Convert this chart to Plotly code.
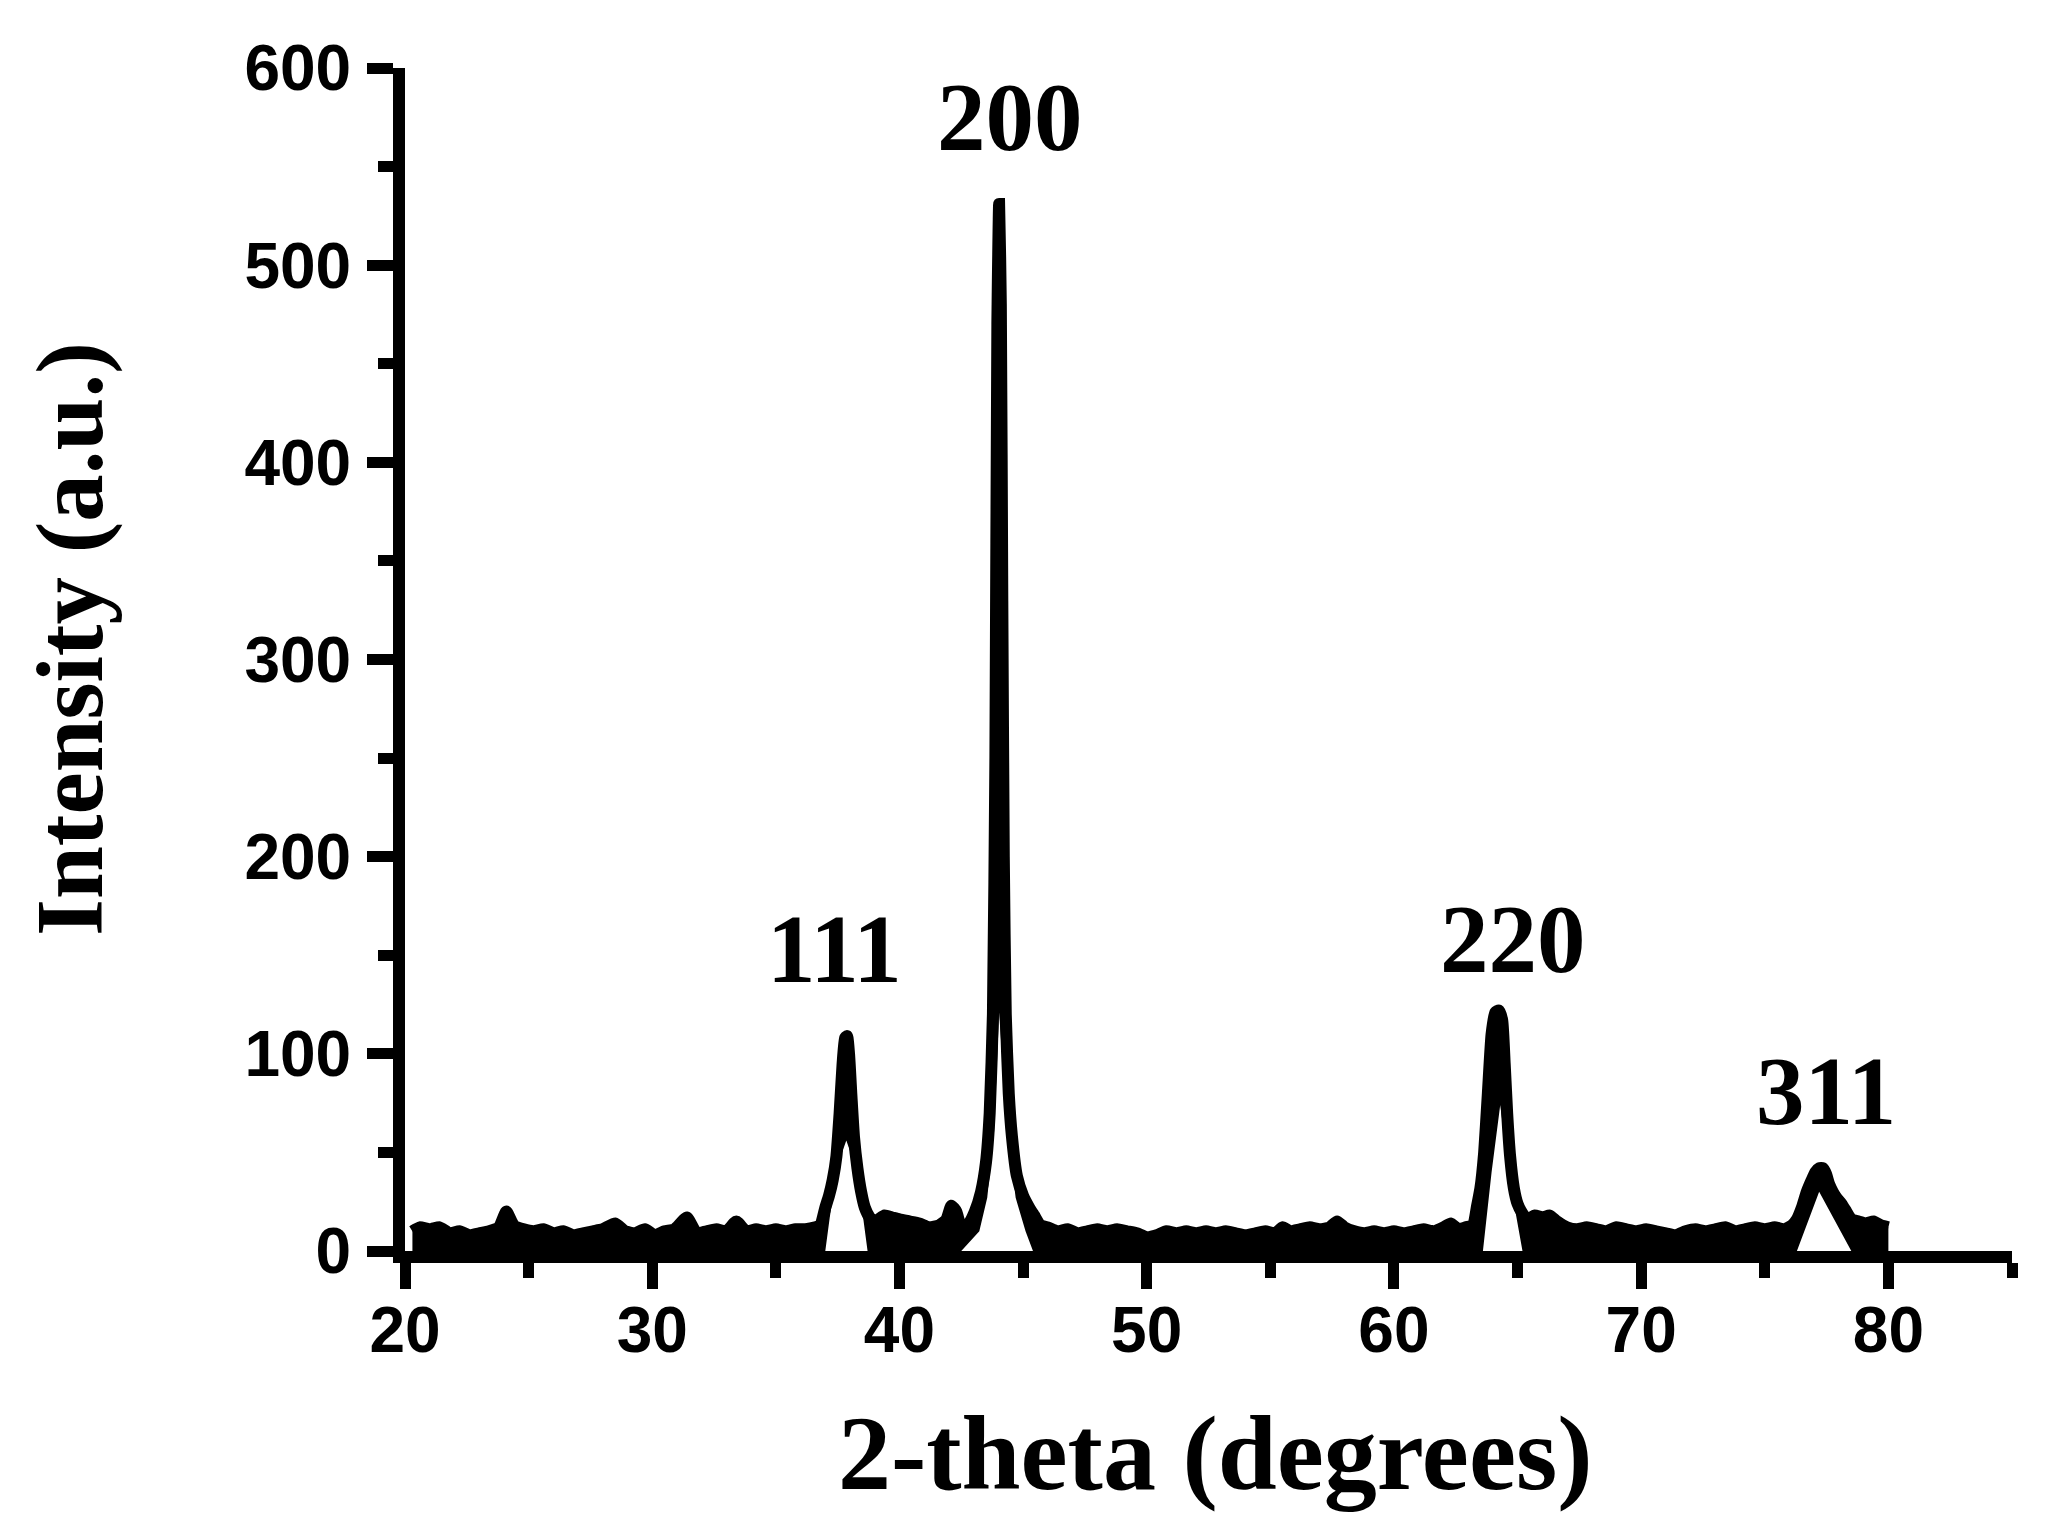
import plotly.graph_objects as go

two_theta = [20.3, 20.6, 21.0, 21.4, 21.8, 22.2, 22.6, 23.0, 23.4, 23.8, 24.1, 24.4, 24.8,
             25.2, 25.6, 26.0, 26.4, 26.8, 27.2, 27.6, 28.0, 28.5, 28.9, 29.3, 29.7, 30.1,
             30.5, 30.9, 31.4, 31.8, 32.2, 32.6, 33.0, 33.4, 33.8, 34.2, 34.6, 35.0, 35.4,
             35.8, 36.2, 36.6,
             36.8, 37.0, 37.15, 37.3, 37.45, 37.58, 37.7, 37.8, 37.88, 37.96, 38.06, 38.16,
             38.3, 38.45, 38.6, 38.8, 39.0,
             39.4, 39.7, 40.0, 40.4, 40.8, 41.2, 41.6, 41.9, 42.1, 42.3,
             42.5, 42.8, 43.05, 43.3, 43.5, 43.65, 43.78, 43.88, 43.96, 44.03, 44.1, 44.16,
             44.22, 44.3, 44.42, 44.55, 44.75, 45.0, 45.25, 45.45, 45.7,
             46.0, 46.4, 46.8, 47.2, 47.6, 48.0, 48.4, 48.8, 49.2, 49.6, 50.0, 50.4, 50.8,
             51.2, 51.6, 52.0, 52.4, 52.8, 53.2, 53.6, 54.0, 54.4, 54.8, 55.2, 55.5, 55.8,
             56.2, 56.6, 57.0, 57.4, 57.7, 58.0, 58.4, 58.8, 59.2, 59.6, 60.0, 60.4, 60.8,
             61.2, 61.6, 62.0, 62.3, 62.6, 62.9,
             63.2, 63.35, 63.5, 63.65, 63.8, 63.95, 64.1, 64.25, 64.38, 64.48, 64.58, 64.7,
             64.85, 65.0, 65.2, 65.4,
             65.7, 66.0, 66.3, 66.6, 67.0, 67.4, 67.8, 68.2, 68.6, 69.0, 69.4, 69.8, 70.2,
             70.6, 71.0, 71.4, 71.8, 72.2, 72.6, 73.0, 73.4, 73.8, 74.2, 74.6, 75.0, 75.4,
             75.8, 76.1, 76.3, 76.5, 76.7, 76.9, 77.05, 77.2, 77.35, 77.48, 77.6, 77.75,
             77.9, 78.1, 78.3, 78.5, 78.8, 79.1, 79.4, 79.7, 80.0]
intensity = [10, 12, 11, 12, 9, 10, 8, 9, 10, 12, 20, 13, 11,
             10, 11, 9, 10, 8, 9, 10, 11, 14, 10, 9, 11, 8,
             10, 11, 17, 9, 10, 11, 10, 15, 10, 11, 10, 11, 10,
             11, 11, 12,
             13, 22, 28, 36, 48, 70, 95, 108, 109, 100, 78, 58,
             42, 30, 22, 17, 15,
             18, 17, 16, 15, 14, 12, 13, 16, 23, 20,
             12, 14, 20, 30, 45, 70, 120, 250, 470, 531, 480, 330,
             200, 120, 80, 58, 38, 28, 22, 18, 13,
             12, 10, 11, 9, 10, 11, 10, 11, 10, 9, 7, 8, 10,
             9, 10, 9, 10, 9, 10, 9, 8, 9, 10, 9, 12, 10,
             11, 12, 11, 12, 15, 12, 10, 9, 10, 9, 10, 9, 10,
             11, 10, 12, 14, 11, 12,
             13, 22, 32, 50, 80, 110, 121, 122, 117, 95, 70, 48,
             32, 24, 19, 16,
             18, 17, 18, 15, 12, 11, 12, 11, 10, 12, 11, 10, 11,
             10, 9, 8, 10, 11, 10, 11, 12, 10, 11, 12, 11, 12,
             11, 13, 16, 22, 30, 36, 40, 42, 42, 39, 34, 30,
             27, 24, 20, 16, 15, 14, 15, 13, 12]

# lower edge of the noise band: sits on zero, lifted under each reflection
floor_theta = [20.3, 37.0, 37.18, 37.51, 37.85, 38.19, 38.53, 38.71,
               42.5, 43.23, 43.55, 43.83, 44.03, 44.36, 44.7, 45.1, 45.4,
               63.6, 63.95, 64.3, 64.7, 65.2,
               76.3, 77.2, 78.5, 80.0]
floor_intensity = [0, 0, 17, 44, 56, 44, 17, 0,
                   0, 10, 27, 61, 121, 61, 27, 10, 0,
                   0, 40, 74, 35, 0,
                   0, 30, 0, 0]

# Miller indices of the reflections
peak_labels = ["111", "200", "220", "311"]
label_theta = [37.38, 44.48, 64.8, 77.46]
label_intensity = [153, 575, 158, 81]

serif = "Liberation Serif, Times New Roman, serif"
sans = "Liberation Sans, Arial, sans-serif"

fig = go.Figure()

# dense noise band between the floor and the upper edge
fig.add_trace(go.Scatter(
    x=two_theta + floor_theta[::-1],
    y=intensity + floor_intensity[::-1],
    mode="lines", fill="toself", fillcolor="black",
    line=dict(width=0), hoverinfo="skip", showlegend=False,
))
fig.add_trace(go.Scatter(
    x=two_theta, y=intensity, mode="lines",
    line=dict(color="black", width=12, shape="spline", smoothing=0.5),
    showlegend=False,
))

for lab, xv, yv in zip(peak_labels, label_theta, label_intensity):
    fig.add_annotation(x=xv, y=yv, text=lab, showarrow=False,
                       xanchor="center", yanchor="middle",
                       font=dict(family=serif, size=97, color="black", weight="bold"))

fig.add_annotation(x=0.504, y=-0.1708, xref="paper", yref="paper",
                   text="2-theta (degrees)", showarrow=False,
                   xanchor="center", yanchor="middle",
                   font=dict(family=serif, size=106, color="black", weight="bold"))
fig.add_annotation(x=-0.2085, y=0.5173, xref="paper", yref="paper",
                   text="Intensity (a.u.)", showarrow=False, textangle=-90,
                   xanchor="center", yanchor="middle",
                   font=dict(family=serif, size=95, color="black", weight="bold"))

axis_common = dict(
    showline=True, linecolor="black", linewidth=12,
    ticks="outside", ticklen=26, tickwidth=11, tickcolor="black",
    showgrid=False, zeroline=False,
    tickfont=dict(family=sans, size=64, color="black", weight="bold"),
)

fig.update_xaxes(range=[20, 85], tick0=20, dtick=10, ticklabelstandoff=-14,
                 minor=dict(dtick=5, ticks="outside", ticklen=15, tickwidth=11,
                            tickcolor="black", showgrid=False),
                 **axis_common)
fig.update_yaxes(range=[0, 600], tick0=0, dtick=100, ticklabelstandoff=3,
                 minor=dict(dtick=50, ticks="outside", ticklen=15, tickwidth=11,
                            tickcolor="black", showgrid=False),
                 **axis_common)

fig.update_layout(
    width=2046, height=1532,
    margin=dict(l=397, r=42, t=60, b=289),
    plot_bgcolor="white", paper_bgcolor="white",
    showlegend=False,
)

fig.write_html("out.html")
